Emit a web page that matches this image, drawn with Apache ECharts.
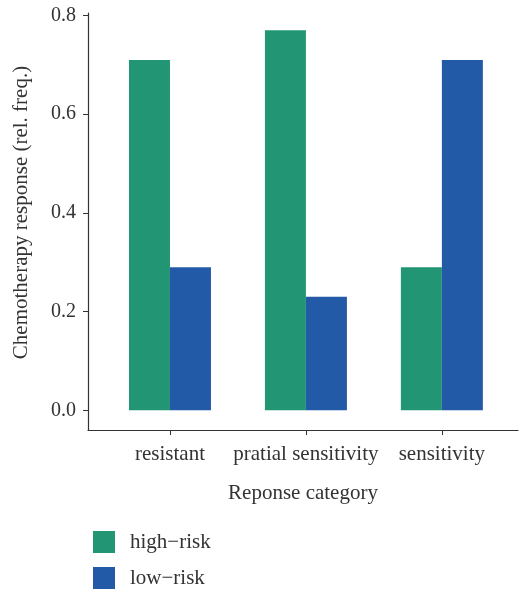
<!DOCTYPE html>
<html>
<head>
<meta charset="utf-8">
<script src="https://cdn.jsdelivr.net/npm/echarts@6/dist/echarts.min.js"></script>
<style>
  html, body { margin: 0; padding: 0; background: #fff; }
  #main { width: 519px; height: 590px; }
</style>
</head>
<body>
<div id="main"></div>
<script>
const categories = ['resistant', 'pratial sensitivity', 'sensitivity'];
const highRisk = [0.71, 0.77, 0.29];
const lowRisk = [0.29, 0.23, 0.71];
const yTicks = [0, 0.2, 0.4, 0.6, 0.8];

const font = 'Liberation Serif';
const textColor = '#333';

// categories sit at 1, 2, 3 on a value axis so the axis line can run past the bars
const toPoints = arr => arr.map((v, i) => [i + 1, v]);

const chart = echarts.init(document.getElementById('main'));
chart.setOption({
  animation: false,
  textStyle: { fontFamily: font, color: textColor },
  grid: { left: 88, right: 1, top: 13, bottom: 160 },
  legend: {
    orient: 'vertical',
    left: 93,
    top: 531,
    padding: 0,
    itemWidth: 22,
    itemHeight: 22,
    itemGap: 14,
    icon: 'rect',
    textStyle: { fontFamily: font, fontSize: 21, color: textColor, padding: [0, 0, 0, 10] },
    data: ['high\u2212risk', 'low\u2212risk']
  },
  xAxis: {
    type: 'value',
    min: 0.397,
    max: 3.56,
    name: 'Reponse category',
    nameLocation: 'middle',
    nameGap: 53,
    nameTextStyle: { fontFamily: font, fontSize: 21, color: textColor },
    splitLine: { show: false },
    axisLine: { show: true, onZero: false, lineStyle: { color: '#333', width: 1.2 } },
    axisTick: { show: true, length: 5, customValues: [1, 2, 3], lineStyle: { color: '#333' } },
    axisLabel: {
      customValues: [1, 2, 3],
      formatter: v => categories[Math.round(v) - 1] || '',
      fontFamily: font, fontSize: 21, color: textColor, margin: 14
    }
  },
  yAxis: {
    type: 'value',
    min: -0.04,
    max: 0.805,
    name: 'Chemotherapy response (rel. freq.)',
    nameLocation: 'middle',
    nameGap: 56,
    nameTextStyle: { fontFamily: font, fontSize: 21, color: textColor, padding: [0, 0, 0, 18] },
    splitLine: { show: false },
    axisLine: { show: true, onZero: false, lineStyle: { color: '#333', width: 1.2 } },
    axisTick: { show: true, length: 5, customValues: yTicks, lineStyle: { color: '#333' } },
    axisLabel: {
      customValues: yTicks,
      formatter: v => v.toFixed(1),
      fontFamily: font, fontSize: 20, color: textColor, margin: 12
    }
  },
  series: [
    {
      name: 'high\u2212risk',
      type: 'bar',
      data: toPoints(highRisk),
      barWidth: 41,
      barGap: '0%',
      itemStyle: { color: '#229674' }
    },
    {
      name: 'low\u2212risk',
      type: 'bar',
      data: toPoints(lowRisk),
      barWidth: 41,
      barGap: '0%',
      itemStyle: { color: '#235aa7' }
    }
  ]
});
</script>
</body>
</html>
